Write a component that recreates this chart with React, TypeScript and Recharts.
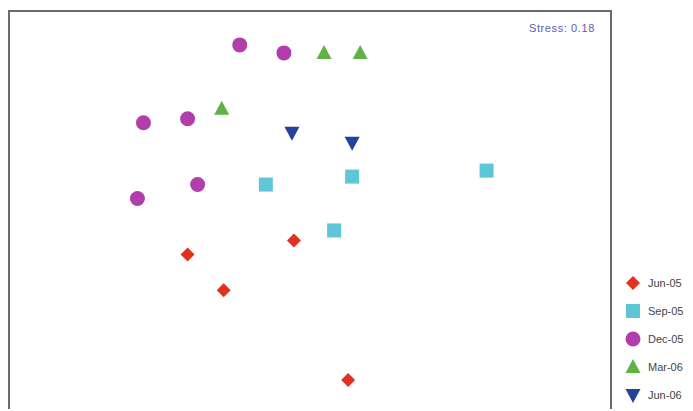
import React from 'react';
import {
  ScatterChart,
  Scatter,
  XAxis,
  YAxis,
  ReferenceArea,
} from 'recharts';

// MDS ordination coordinates per sampling date
const jun05 = [
  { x: -0.61, y: -0.22 },
  { x: -0.43, y: -0.4 },
  { x: -0.08, y: -0.15 },
  { x: 0.19, y: -0.85 },
];
const sep05 = [
  { x: -0.22, y: 0.13 },
  { x: 0.21, y: 0.17 },
  { x: 0.88, y: 0.2 },
  { x: 0.12, y: -0.1 },
];
const dec05 = [
  { x: -0.35, y: 0.83 },
  { x: -0.13, y: 0.79 },
  { x: -0.83, y: 0.44 },
  { x: -0.61, y: 0.46 },
  { x: -0.56, y: 0.13 },
  { x: -0.86, y: 0.06 },
];
const mar06 = [
  { x: 0.07, y: 0.79 },
  { x: 0.25, y: 0.79 },
  { x: -0.44, y: 0.51 },
];
const jun06 = [
  { x: -0.09, y: 0.39 },
  { x: 0.21, y: 0.34 },
];

const stressLabel = 'Stress: 0.18';

const COLORS = {
  jun05: '#e2321f',
  sep05: '#5ec6d6',
  dec05: '#b23eae',
  mar06: '#5fb245',
  jun06: '#24419b',
};

type Kind = 'diamond' | 'square' | 'circle' | 'up' | 'down';

const Marker = ({ kind, cx, cy, fill }: { kind: Kind; cx: number; cy: number; fill: string }) => {
  switch (kind) {
    case 'diamond':
      return <path d={`M${cx},${cy - 7}L${cx + 7},${cy}L${cx},${cy + 7}L${cx - 7},${cy}Z`} fill={fill} />;
    case 'square':
      return <rect x={cx - 7} y={cy - 7} width={14} height={14} fill={fill} />;
    case 'circle':
      return <circle cx={cx} cy={cy} r={7.5} fill={fill} />;
    case 'up':
      return <path d={`M${cx},${cy - 8}L${cx + 7.5},${cy + 6}L${cx - 7.5},${cy + 6}Z`} fill={fill} />;
    case 'down':
      return <path d={`M${cx},${cy + 8}L${cx + 7.5},${cy - 6}L${cx - 7.5},${cy - 6}Z`} fill={fill} />;
  }
  return null;
};

const makeShape = (kind: Kind, fill: string) => (props: any) => (
  <Marker kind={kind} cx={props.cx} cy={props.cy} fill={fill} />
);

const legendItems: { name: string; kind: Kind; color: string }[] = [
  { name: 'Jun-05', kind: 'diamond', color: COLORS.jun05 },
  { name: 'Sep-05', kind: 'square', color: COLORS.sep05 },
  { name: 'Dec-05', kind: 'circle', color: COLORS.dec05 },
  { name: 'Mar-06', kind: 'up', color: COLORS.mar06 },
  { name: 'Jun-06', kind: 'down', color: COLORS.jun06 },
];

export default function App() {
  return (
    <div style={{ position: 'relative', width: 685, height: 401, overflow: 'hidden', background: '#fff' }}>
      <ScatterChart width={685} height={403} margin={{ top: 3, right: 82, bottom: 1, left: 1 }}>
        <XAxis type="number" dataKey="x" domain={[-1.5, 1.5]} hide />
        <YAxis type="number" dataKey="y" domain={[-1, 1]} hide />
        <ReferenceArea x1={-1.5} x2={1.5} y1={-1} y2={1} fill="none" stroke="#6a6a6a" strokeWidth={2} fillOpacity={0} />
        <Scatter name="Jun-05" data={jun05} shape={makeShape('diamond', COLORS.jun05)} isAnimationActive={false} />
        <Scatter name="Sep-05" data={sep05} shape={makeShape('square', COLORS.sep05)} isAnimationActive={false} />
        <Scatter name="Dec-05" data={dec05} shape={makeShape('circle', COLORS.dec05)} isAnimationActive={false} />
        <Scatter name="Mar-06" data={mar06} shape={makeShape('up', COLORS.mar06)} isAnimationActive={false} />
        <Scatter name="Jun-06" data={jun06} shape={makeShape('down', COLORS.jun06)} isAnimationActive={false} />
      </ScatterChart>
      <svg width={70} height={140} style={{ position: 'absolute', left: 615, top: 264 }}>
        {legendItems.map((it, i) => (
          <g key={it.name}>
            <Marker kind={it.kind} cx={10} cy={11 + i * 28} fill={it.color} />
            <text x={25} y={15 + i * 28} fontSize={11} fill="#444" fontFamily="Liberation Sans, Arial, sans-serif">
              {it.name}
            </text>
          </g>
        ))}
      </svg>
      <div
        style={{
          position: 'absolute',
          left: 521,
          top: 14,
          fontSize: 11,
          letterSpacing: 0.6,
          color: '#5b5bc0',
          fontFamily: 'Liberation Sans, Arial, sans-serif',
        }}
      >
        {stressLabel}
      </div>
    </div>
  );
}
